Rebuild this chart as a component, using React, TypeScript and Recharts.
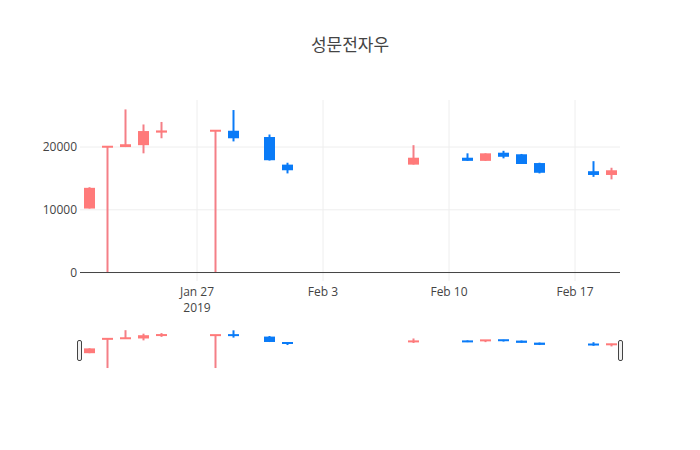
import { ComposedChart, Bar, XAxis, YAxis, CartesianGrid, ReferenceLine } from "recharts";

const FONT = '"Open Sans", "Noto Sans CJK KR", sans-serif';
const TEXT = "#444";
const UP_FILL = "#FF7A7A";
const UP_LINE = "#F47F87";
const DOWN_FILL = "#0A7BF7";
const DOWN_LINE = "#0A7BF7";

const TITLE = "성문전자우";

// daily OHLC
const dates = [
  "2019-01-21", "2019-01-22", "2019-01-23", "2019-01-24", "2019-01-25", "2019-01-28",
  "2019-01-29", "2019-01-31", "2019-02-01", "2019-02-08", "2019-02-11", "2019-02-12",
  "2019-02-13", "2019-02-14", "2019-02-15", "2019-02-18", "2019-02-19",
];
const opens = [10200, 20000, 20000, 20300, 22300, 22500, 22600, 21600, 17200, 17200, 18300, 17800, 19100, 18850, 17450, 16150, 15550];
const highs = [13600, 20100, 26000, 23600, 24000, 22650, 25900, 22000, 17500, 20300, 19000, 19000, 19400, 18900, 17500, 17750, 16700];
const lows = [10200, 0, 20000, 19000, 21400, 0, 20900, 17850, 15800, 17200, 17800, 17800, 18200, 17300, 15800, 15250, 14850];
const closes = [13500, 20050, 20450, 22550, 22650, 22600, 21400, 17900, 16300, 18300, 17800, 19000, 18450, 17300, 15900, 15550, 16300];

const xTickDates = ["2019-01-27", "2019-02-03", "2019-02-10", "2019-02-17"];
const yTicks = [0, 10000, 20000];
const yGrid = [10000, 20000];

const DAY = 86400000;
const toMs = (s: string) => Date.parse(s + "T00:00:00Z");
const xTicks = xTickDates.map(toMs);
const xDomain = [toMs("2019-01-21") - DAY / 2, toMs("2019-02-19") + DAY / 2];
const yDomain = [-1350, 27500];
const MONTHS = ["Jan", "Feb", "Mar", "Apr", "May", "Jun", "Jul", "Aug", "Sep", "Oct", "Nov", "Dec"];

const data = dates.map((d, i) => ({
  t: toMs(d),
  open: opens[i],
  high: highs[i],
  low: lows[i],
  close: closes[i],
}));

function Candle(props: any) {
  const { x, y, width, height, payload } = props;
  if (x == null || y == null) return null;
  const { open, close, high, low } = payload;
  const up = close >= open;
  const span = high - low;
  const py = (v: number) => (span > 0 ? y + ((high - v) / span) * height : y);
  const cx = x + width / 2;
  const top = py(Math.max(open, close));
  const bot = py(Math.min(open, close));
  const h = Math.max(bot - top, 2);
  const line = up ? UP_LINE : DOWN_LINE;
  return (
    <g>
      <line x1={cx} x2={cx} y1={py(high)} y2={py(low)} stroke={line} strokeWidth={2} />
      <rect x={x} y={top - (h > bot - top ? 1 : 0)} width={width} height={h} fill={up ? UP_FILL : DOWN_FILL} />
    </g>
  );
}

function DateTick(props: any) {
  const { x, y, payload } = props;
  const d = new Date(payload.value);
  const label = `${MONTHS[d.getUTCMonth()]} ${d.getUTCDate()}`;
  const first = payload.value === xTicks[0];
  return (
    <g>
      <text x={x} y={y + 15} textAnchor="middle" fill={TEXT} fontSize={12} fontFamily={FONT}>{label}</text>
      {first && (
        <text x={x} y={y + 31} textAnchor="middle" fill={TEXT} fontSize={12} fontFamily={FONT}>{d.getUTCFullYear()}</text>
      )}
    </g>
  );
}

export default function App() {
  return (
    <div style={{ position: "absolute", left: 0, top: 0, width: 700, height: 450, background: "#fff", fontFamily: FONT }}>
      <div style={{ position: "absolute", left: 0, top: 31, width: 700, textAlign: "center", fontSize: 17, color: TEXT }}>
        {TITLE}
      </div>
      <div style={{ position: "absolute", left: 0, top: 0 }}>
        <ComposedChart width={700} height={320} data={data} margin={{ top: 100, right: 80, bottom: 0, left: 0 }}>
          <CartesianGrid stroke="#eee" strokeWidth={1} horizontalValues={yGrid} verticalValues={xTicks} />
          <XAxis
            dataKey="t"
            type="number"
            scale="linear"
            domain={xDomain}
            ticks={xTicks}
            allowDataOverflow
            axisLine={false}
            tickLine={false}
            tickSize={0}
            tickMargin={0}
            height={39}
            tick={<DateTick />}
          />
          <YAxis
            type="number"
            domain={yDomain}
            ticks={yTicks}
            allowDataOverflow
            axisLine={false}
            tickLine={false}
            tickSize={0}
            tickMargin={3}
            width={80}
            tick={{ fill: TEXT, fontSize: 12, fontFamily: FONT }}
          />
          <ReferenceLine y={0} stroke={TEXT} strokeWidth={1} />
          <Bar dataKey={(d: any) => [d.low, d.high]} barSize={11} shape={<Candle />} isAnimationActive={false} />
        </ComposedChart>
      </div>
      {/* range slider */}
      <div style={{ position: "absolute", left: 0, top: 328 }}>
        <ComposedChart width={700} height={42} data={data} margin={{ top: 0, right: 80, bottom: 0, left: 80 }}>
          <XAxis dataKey="t" type="number" scale="linear" domain={xDomain} allowDataOverflow hide />
          <YAxis type="number" domain={yDomain} allowDataOverflow hide />
          <Bar dataKey={(d: any) => [d.low, d.high]} barSize={11} shape={<Candle />} isAnimationActive={false} />
        </ComposedChart>
      </div>
      <svg style={{ position: "absolute", left: 0, top: 0 }} width={700} height={450}>
        <rect x={77.5} y={340.5} width={4} height={20} rx={1.5} fill="#f2f2f2" stroke="#444" strokeWidth={1} />
        <rect x={618.5} y={340.5} width={4} height={20} rx={1.5} fill="#f2f2f2" stroke="#444" strokeWidth={1} />
      </svg>
    </div>
  );
}
